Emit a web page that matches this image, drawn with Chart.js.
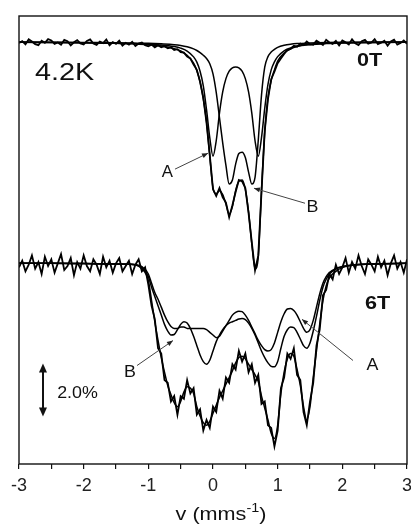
<!DOCTYPE html>
<html>
<head>
<meta charset="utf-8">
<script src="https://cdn.jsdelivr.net/npm/chart.js@4.4.1/dist/chart.umd.min.js"></script>
<style>
  html, body { margin: 0; padding: 0; background: #fff; }
  #wrap { width: 411px; height: 524px; position: relative; }
</style>
</head>
<body>
<div id="wrap"><canvas id="mossbauer"></canvas></div>
<script>
// velocity channels of the measured spectra (mm/s)
const velocity = [
  -3, -2.95, -2.9, -2.85, -2.8, -2.75, -2.7, -2.65, -2.6, -2.55,
  -2.5, -2.45, -2.4, -2.35, -2.3, -2.25, -2.2, -2.15, -2.1, -2.05,
  -2, -1.95, -1.9, -1.85, -1.8, -1.75, -1.7, -1.65, -1.6, -1.55,
  -1.5, -1.45, -1.4, -1.35, -1.3, -1.25, -1.2, -1.15, -1.1, -1.05,
  -1, -0.95, -0.9, -0.85, -0.8, -0.75, -0.7, -0.65, -0.6, -0.55,
  -0.5, -0.45, -0.4, -0.35, -0.3, -0.25, -0.2, -0.15, -0.1, -0.05,
  0, 0.05, 0.1, 0.15, 0.2, 0.25, 0.3, 0.35, 0.4, 0.45,
  0.5, 0.55, 0.6, 0.65, 0.7, 0.75, 0.8, 0.85, 0.9, 0.95,
  1, 1.05, 1.1, 1.15, 1.2, 1.25, 1.3, 1.35, 1.4, 1.45,
  1.5, 1.55, 1.6, 1.65, 1.7, 1.75, 1.8, 1.85, 1.9, 1.95,
  2, 2.05, 2.1, 2.15, 2.2, 2.25, 2.3, 2.35, 2.4, 2.45,
  2.5, 2.55, 2.6, 2.65, 2.7, 2.75, 2.8, 2.85, 2.9, 2.95,
  3
];

// absorption (%) measured at 0 T
const data0T = [
  0.04, -0.03, 0.09, -0.1, -0.02, 0.08, 0.12, -0.05, 0.03, -0.11,
  -0.06, 0.07, 0.02, 0.1, -0.08, -0.03, 0.13, 0.01, -0.07, 0.05,
  0.09, -0.04, -0.1, 0.06, 0.11, -0.02, 0.04, -0.09, 0.12, 0.0,
  0.07, -0.05, 0.14, 0.03, 0.1, -0.01, 0.15, 0.06, 0.02, 0.12,
  0.16, 0.1, 0.2, 0.12, 0.2, 0.16, 0.24, 0.2, 0.3, 0.27,
  0.38, 0.4, 0.55, 0.62, 0.85, 1.05, 1.5, 2.1, 3.05, 4.25,
  5.55, 5.8, 5.5, 5.85, 6.05, 6.6, 6.15, 5.65, 5.2, 5.25,
  5.5, 6.45, 7.55, 8.6, 8.05, 5.65, 3.35, 2.15, 1.4, 1.12,
  0.8, 0.62, 0.45, 0.3, 0.26, 0.14, 0.18, 0.06, 0.12, -0.02,
  0.08, 0.1, -0.05, 0.03, 0.11, -0.08, 0.02, 0.07, -0.04, 0.13,
  -0.06, 0.01, 0.09, -0.1, 0.05, 0.12, -0.03, -0.08, 0.06, 0.02,
  -0.11, 0.08, 0.03, -0.05, 0.14, -0.02, -0.09, 0.1, 0.04, -0.06,
  0.07
];

// absorption (%) measured at 6 T
const data6T = [
  0.15, -0.1, 0.3, 0.05, -0.3, 0.2, -0.05, 0.4, -0.25, 0.1,
  -0.15, 0.35, 0.0, -0.35, 0.25, 0.1, -0.2, 0.45, -0.05, 0.2,
  -0.3, 0.1, 0.3, -0.15, 0.05, 0.4, -0.25, 0.15, -0.1, 0.35,
  0.0, -0.2, 0.3, 0.1, -0.1, 0.4, 0.05, -0.15, 0.3, 0.15,
  0.8, 1.6, 2.1, 3.2, 3.4, 4.4, 4.5, 5.2, 5.0, 5.7,
  5.0, 5.1, 4.4, 4.9, 4.7, 5.7, 5.5, 6.3, 5.9, 6.2,
  5.4, 5.6, 4.8, 5.1, 4.3, 4.5, 3.8, 4.0, 3.3, 3.7,
  3.4, 4.1, 3.8, 4.5, 4.2, 5.3, 5.2, 6.1, 6.2, 6.9,
  6.3, 4.7, 4.3, 3.4, 3.6, 3.2, 4.2, 4.4, 5.6, 6.1,
  5.2, 4.5, 3.1, 2.5, 1.2, 1.0, 0.4, 0.6, 0.05, 0.4,
  0.15, -0.2, 0.35, -0.05, 0.2, -0.3, 0.1, 0.4, -0.15, 0.05,
  0.3, -0.25, 0.15, -0.1, 0.45, 0.0, -0.3, 0.2, -0.05, 0.35,
  -0.15
];

// fitted curves, 0 T
const fitV0T = [
  -3, -2.5, -2, -1.5, -1.25, -1, -0.8, -0.6, -0.5, -0.4, -0.3,
  -0.25, -0.2, -0.15, -0.1, -0.05, 0, 0.05, 0.1, 0.15, 0.2,
  0.25, 0.3, 0.35, 0.4, 0.45, 0.5, 0.55, 0.6, 0.65, 0.7,
  0.75, 0.8, 0.85, 0.9, 0.95, 1,
  1.1, 1.2, 1.3, 1.5, 1.75, 2, 2.5, 3
];
const fitTotal0T = [
  0.01, 0.02, 0.03, 0.05, 0.07, 0.1, 0.15, 0.25, 0.34, 0.5, 0.8,
  1.08, 1.5, 2.15, 3.0, 4.3, 5.5, 5.72, 5.6, 5.75, 6.1,
  6.5, 6.2, 5.6, 5.25, 5.2, 5.55, 6.4, 7.6, 8.55, 8.1,
  5.6, 3.4, 2.1, 1.45, 1.05, 0.72,
  0.42, 0.26, 0.17, 0.1, 0.06, 0.04, 0.02, 0.01
];
const fitA0T = [
  0.01, 0.02, 0.03, 0.05, 0.06, 0.08, 0.11, 0.17, 0.23, 0.34, 0.56,
  0.76, 1.1, 1.65, 2.55, 3.6, 4.3, 3.72, 2.68, 1.88, 1.38,
  1.1, 0.97, 0.94, 0.97, 1.1, 1.38, 1.88, 2.68, 3.72, 4.3,
  3.6, 2.5, 1.6, 1.05, 0.75, 0.55,
  0.33, 0.22, 0.15, 0.09, 0.05, 0.03, 0.02, 0.01
];
const fitB0T = [
  0, 0.01, 0.02, 0.03, 0.04, 0.05, 0.07, 0.1, 0.13, 0.18, 0.26,
  0.32, 0.4, 0.5, 0.62, 0.82, 1.2, 1.9, 2.85, 3.8, 4.65,
  5.35, 5.2, 4.6, 4.2, 4.15, 4.35, 4.9, 5.35, 5.1, 3.7,
  2.0, 0.95, 0.55, 0.38, 0.28, 0.2,
  0.12, 0.08, 0.06, 0.04, 0.02, 0.01, 0, 0
];

// fitted curves, 6 T
const fitV6T = [
  -3, -2.5, -2, -1.5, -1.3, -1.2, -1.1,
  -1, -0.95, -0.9, -0.85, -0.8, -0.75, -0.7, -0.65, -0.6, -0.55,
  -0.5, -0.45, -0.4, -0.35, -0.3, -0.25, -0.2, -0.15, -0.1, -0.05,
  0, 0.05, 0.1, 0.15, 0.2, 0.25, 0.3, 0.35, 0.4, 0.45,
  0.5, 0.55, 0.6, 0.65, 0.7, 0.75, 0.8, 0.85, 0.9, 0.95,
  1, 1.05, 1.1, 1.15, 1.2, 1.25, 1.3, 1.35, 1.4, 1.45,
  1.5, 1.55, 1.6, 1.65, 1.7, 1.75, 1.8,
  1.9, 2, 2.2, 2.5, 3
];
const fitTotal6T = [
  0, 0, 0.01, 0.02, 0.03, 0.05, 0.2,
  0.65, 1.4, 2.2, 2.9, 3.55, 4.1, 4.6, 4.95, 5.25, 5.4,
  5.2, 4.85, 4.65, 4.7, 4.9, 5.4, 5.75, 6.0, 6.1, 5.95,
  5.65, 5.35, 5.05, 4.8, 4.55, 4.3, 4.05, 3.75, 3.55, 3.5,
  3.6, 3.8, 4.0, 4.2, 4.45, 5.0, 5.45, 5.9, 6.4, 6.6,
  6.1, 4.9, 4.1, 3.6, 3.4, 3.5, 4.0, 4.6, 5.4, 5.9,
  5.4, 4.3, 3.3, 2.3, 1.4, 0.85, 0.55,
  0.3, 0.16, 0.06, 0.02, 0
];
const fitA6T = [
  0, 0, 0.01, 0.02, 0.03, 0.05, 0.12,
  0.4, 0.75, 1.1, 1.35, 1.65, 1.95, 2.2, 2.38, 2.45, 2.45,
  2.4, 2.4, 2.45, 2.45, 2.45, 2.45, 2.45, 2.45, 2.5, 2.6,
  2.7, 2.8, 2.75, 2.55, 2.35, 2.15, 1.95, 1.85, 1.8, 1.82,
  1.95, 2.15, 2.4, 2.65, 2.9, 3.1, 3.25, 3.3, 3.25, 3.0,
  2.6, 2.2, 1.9, 1.72, 1.7, 1.78, 1.95, 2.2, 2.45, 2.6,
  2.5, 2.15, 1.65, 1.15, 0.75, 0.5, 0.35,
  0.2, 0.12, 0.05, 0.02, 0
];
const fitB6T = [
  0, 0, 0.01, 0.02, 0.03, 0.05, 0.15,
  0.5, 0.9, 1.25, 1.6, 1.95, 2.3, 2.55, 2.7, 2.68, 2.5,
  2.3, 2.2, 2.25, 2.45, 2.75, 3.1, 3.45, 3.7, 3.8, 3.65,
  3.3, 2.95, 2.7, 2.5, 2.35, 2.25, 2.2, 2.15, 2.1, 2.08,
  2.12, 2.25, 2.45, 2.7, 3.0, 3.3, 3.55, 3.75, 3.88, 3.9,
  3.7, 3.2, 2.75, 2.5, 2.4, 2.42, 2.6, 2.85, 3.1, 3.2,
  3.0, 2.55, 2.0, 1.4, 0.9, 0.6, 0.4,
  0.22, 0.13, 0.05, 0.02, 0
];

// vertical stacking of the two spectra (in % units)
const BASE_0T = 0;
const BASE_6T = -8.34;

const FONT = "'Liberation Sans', Arial, Helvetica, sans-serif";

// text placed in data coordinates [text, v, y, size, bold, align, stretch]
const textNotes = [
  ["4.2K", -2.752, -1.19, 24, false, "left", 1.2],
  ["0T", 2.42, -0.72, 18, true, "center", 1.2],
  ["6T", 2.544, -9.87, 18, true, "center", 1.2],
  ["A", -0.704, -4.92, 16, false, "center", 1.05],
  ["B", 1.539, -6.21, 17, false, "center", 1.05],
  ["A", 2.466, -12.17, 17, false, "center", 1.05],
  ["B", -1.283, -12.43, 17, false, "center", 1.05],
  ["2.0%", -2.095, -13.245, 17, false, "center", 1.05]
];
// pointer lines [fromV, fromY, toV, toY]
const pointers = [
  [-0.588, -4.79, -0.077, -4.19],
  [1.423, -6.075, 0.634, -5.51],
  [2.165, -12.0, 1.376, -10.45],
  [-1.175, -12.19, -0.619, -11.25]
];
// scale bar of 2.0 %
const scaleBar = { v: -2.629, top: -12.11, size: 2.0 };

function pts(xs, depth, base) {
  return xs.map((v, i) => ({ x: v, y: base - depth[i] }));
}

function arrowHead(ctx, x0, y0, x1, y1, len, half) {
  const a = Math.atan2(y1 - y0, x1 - x0);
  ctx.beginPath();
  ctx.moveTo(x1, y1);
  ctx.lineTo(x1 - len * Math.cos(a) + half * Math.sin(a), y1 - len * Math.sin(a) - half * Math.cos(a));
  ctx.lineTo(x1 - len * Math.cos(a) - half * Math.sin(a), y1 - len * Math.sin(a) + half * Math.cos(a));
  ctx.closePath();
  ctx.fill();
}

const decorations = {
  id: "decorations",
  afterDraw(chart) {
    const ctx = chart.ctx;
    const sx = chart.scales.x, sy = chart.scales.y;
    const area = chart.chartArea;
    ctx.save();
    ctx.fillStyle = "#111";
    ctx.strokeStyle = "#111";

    // box
    ctx.lineWidth = 1.4;
    ctx.strokeRect(area.left, area.top, area.right - area.left, area.bottom - area.top);

    // labels
    textNotes.forEach(([s, v, y, size, bold, align, stretch]) => {
      ctx.save();
      ctx.font = (bold ? "bold " : "") + size + "px " + FONT;
      ctx.textBaseline = "middle";
      ctx.textAlign = align;
      ctx.translate(sx.getPixelForValue(v), sy.getPixelForValue(y));
      ctx.scale(stretch, 1);
      ctx.fillText(s, 0, 0);
      ctx.restore();
    });

    // pointers
    ctx.strokeStyle = "#444";
    ctx.fillStyle = "#222";
    ctx.lineWidth = 1;
    pointers.forEach(([v0, y0, v1, y1]) => {
      const x0 = sx.getPixelForValue(v0), py0 = sy.getPixelForValue(y0);
      const x1 = sx.getPixelForValue(v1), py1 = sy.getPixelForValue(y1);
      ctx.beginPath();
      ctx.moveTo(x0, py0);
      ctx.lineTo(x1, py1);
      ctx.stroke();
      arrowHead(ctx, x0, py0, x1, py1, 6, 2.5);
    });

    // 2.0 % bar
    const bx = sx.getPixelForValue(scaleBar.v);
    const bt = sy.getPixelForValue(scaleBar.top);
    const bb = sy.getPixelForValue(scaleBar.top - scaleBar.size);
    ctx.strokeStyle = "#111";
    ctx.fillStyle = "#111";
    ctx.lineWidth = 2;
    ctx.beginPath();
    ctx.moveTo(bx, bt + 5);
    ctx.lineTo(bx, bb - 5);
    ctx.stroke();
    arrowHead(ctx, bx, bb, bx, bt, 9, 4);
    arrowHead(ctx, bx, bt, bx, bb, 9, 4);

    // axis title: v (mms^-1)
    const cx = (area.left + area.right) / 2 + 8;
    const base = chart.height - 4;
    const st = 1.2;
    ctx.font = "18px " + FONT;
    const w1 = ctx.measureText("v (mms").width * st;
    const w3 = ctx.measureText(")").width * st;
    ctx.font = "12px " + FONT;
    const w2 = ctx.measureText("-1").width * st;
    let x = cx - (w1 + w2 + w3) / 2;
    ctx.textBaseline = "alphabetic";
    ctx.textAlign = "left";
    const piece = (s, size, px, py) => {
      ctx.save();
      ctx.font = size + "px " + FONT;
      ctx.translate(px, py);
      ctx.scale(st, 1);
      ctx.fillText(s, 0, 0);
      ctx.restore();
    };
    piece("v (mms", 18, x, base);
    piece("-1", 12, x + w1, base - 8);
    piece(")", 18, x + w1 + w2, base);
    ctx.restore();
  }
};

Chart.defaults.font.family = FONT;
Chart.defaults.color = "#111";

new Chart(document.getElementById("mossbauer"), {
  type: "line",
  data: {
    datasets: [
      {
        label: "0T data",
        data: pts(velocity, data0T, BASE_0T),
        borderColor: "#000",
        borderWidth: 1.8,
        tension: 0,
      },
      {
        label: "6T data",
        data: pts(velocity, data6T, BASE_6T),
        borderColor: "#000",
        borderWidth: 1.8,
        tension: 0,
      },
      {
        label: "0T fit",
        data: pts(fitV0T, fitTotal0T, BASE_0T),
        borderColor: "#000",
        borderWidth: 1.5,
        cubicInterpolationMode: "monotone",
      },
      {
        label: "0T A",
        data: pts(fitV0T, fitA0T, BASE_0T),
        borderColor: "#000",
        borderWidth: 1.5,
        cubicInterpolationMode: "monotone",
      },
      {
        label: "0T B",
        data: pts(fitV0T, fitB0T, BASE_0T),
        borderColor: "#000",
        borderWidth: 1.5,
        cubicInterpolationMode: "monotone",
      },
      {
        label: "6T fit",
        data: pts(fitV6T, fitTotal6T, BASE_6T),
        borderColor: "#000",
        borderWidth: 1.5,
        cubicInterpolationMode: "monotone",
      },
      {
        label: "6T A",
        data: pts(fitV6T, fitA6T, BASE_6T),
        borderColor: "#000",
        borderWidth: 1.5,
        cubicInterpolationMode: "monotone",
      },
      {
        label: "6T B",
        data: pts(fitV6T, fitB6T, BASE_6T),
        borderColor: "#000",
        borderWidth: 1.5,
        cubicInterpolationMode: "monotone",
      },
    ],
  },
  options: {
    responsive: true,
    maintainAspectRatio: false,
    animation: false,
    elements: { point: { radius: 0 } },
    layout: { padding: { left: 19, right: 4, top: 16, bottom: 0 } },
    plugins: {
      legend: { display: false },
      tooltip: { enabled: false },
    },
    scales: {
      x: {
        type: "linear",
        min: -3,
        max: 3,
        border: { display: false },
        grid: { drawOnChartArea: false, drawTicks: true, tickLength: 5, color: "#111", lineWidth: 1.2 },
        ticks: {
          stepSize: 0.5,
          autoSkip: false,
          maxRotation: 0,
          padding: 6,
          color: "#222",
          font: { size: 18 },
          callback: (v) => (Number.isInteger(v) ? String(v) : ""),
        },
        afterFit: (s) => {
          s.height = 60;
          s.paddingLeft = 0;
          s.paddingRight = 0;
        },
      },
      y: {
        display: false,
        min: -15.9,
        max: 0.98,
      },
    },
  },
  plugins: [decorations],
});
</script>
</body>
</html>
